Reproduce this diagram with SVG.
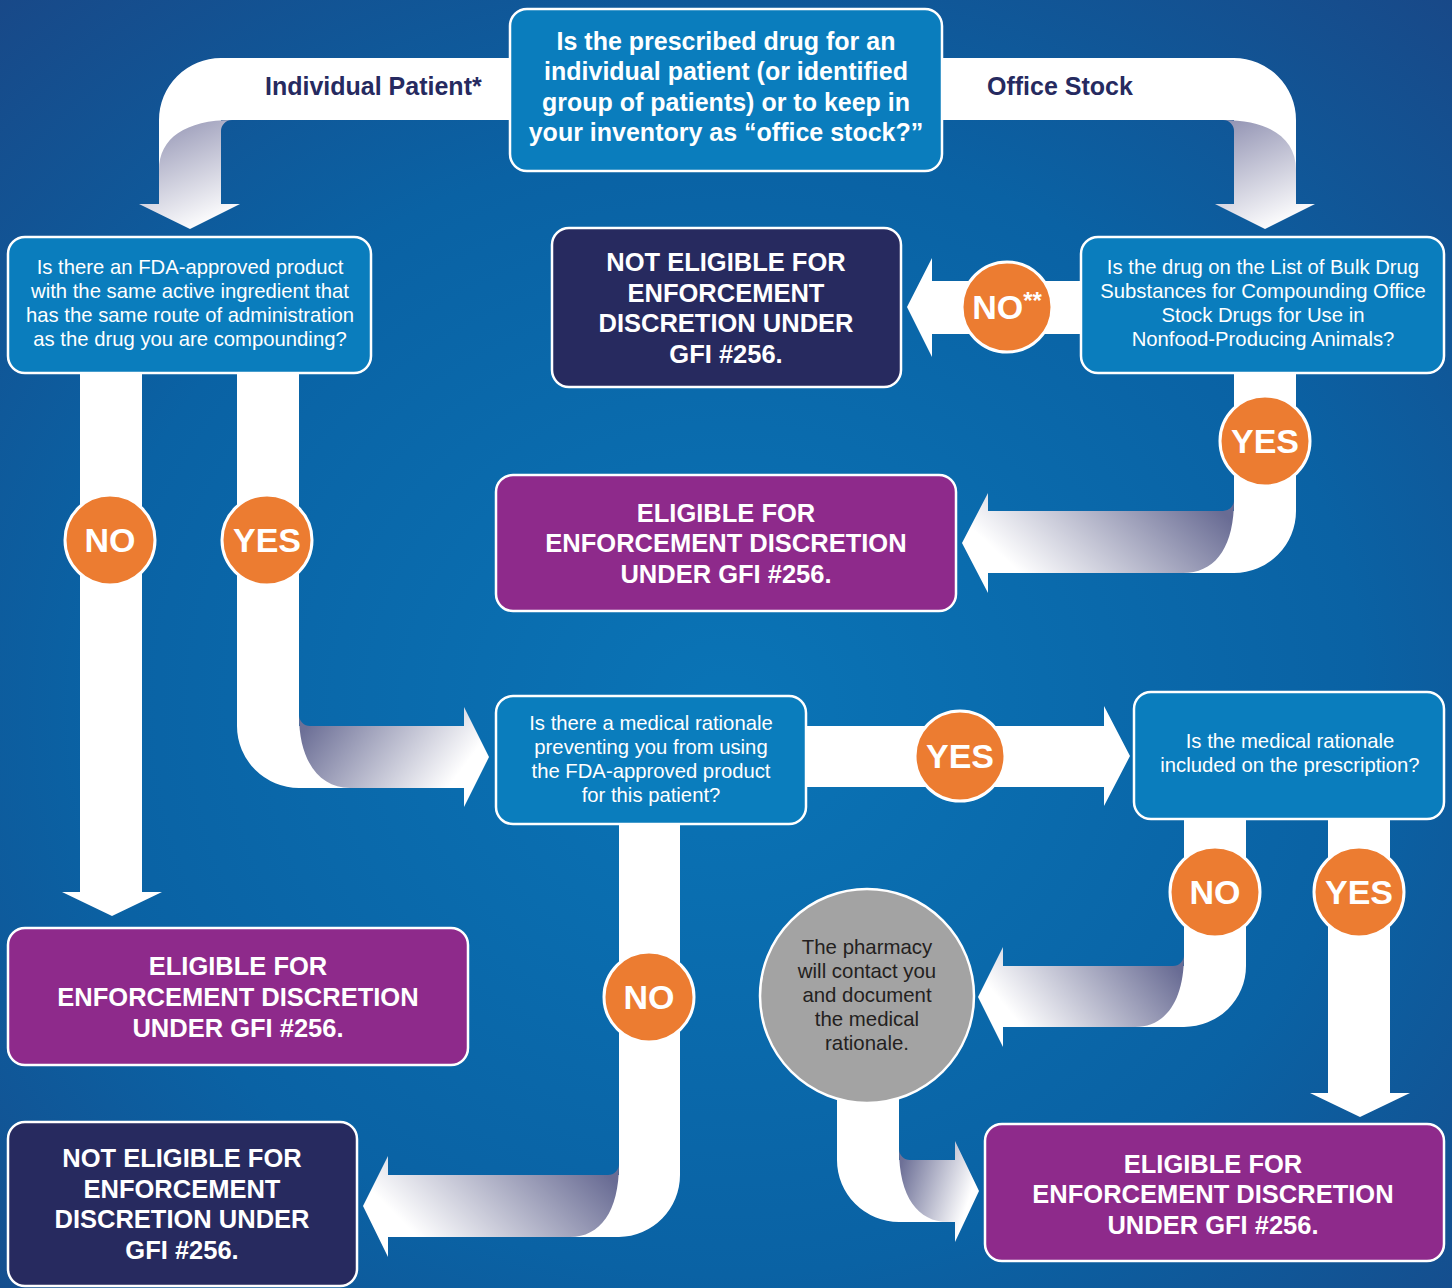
<svg xmlns="http://www.w3.org/2000/svg" width="1452" height="1288" viewBox="0 0 1452 1288">
<defs>
<radialGradient id="bg" cx="50%" cy="55%" r="80%">
<stop offset="0" stop-color="#0a74b6"/>
<stop offset="0.55" stop-color="#0a62a4"/>
<stop offset="1" stop-color="#1b4483"/>
</radialGradient>
<linearGradient id="gDown" x1="0.2" y1="0" x2="0.6" y2="1">
<stop offset="0" stop-color="#9596b5"/>
<stop offset="1" stop-color="#ffffff"/>
</linearGradient>
<linearGradient id="gLeft" x1="1" y1="0.3" x2="0" y2="0.7">
<stop offset="0" stop-color="#696c94"/>
<stop offset="0.85" stop-color="#ffffff"/>
</linearGradient>
<linearGradient id="gRight" x1="0" y1="0.3" x2="1" y2="0.7">
<stop offset="0" stop-color="#6d7097"/>
<stop offset="0.85" stop-color="#ffffff"/>
</linearGradient>
<style>
.q{fill:#0a7dbd;stroke:#fff;stroke-width:2.5}
.ne{fill:#272a5f;stroke:#fff;stroke-width:2.5}
.el{fill:#8e2a8b;stroke:#fff;stroke-width:2.5}
.oc{fill:#ec7c31;stroke:#fff;stroke-width:3}
.w{fill:#fff}
.tq{font-family:"Liberation Sans",Arial,sans-serif;font-size:20.3px;fill:#fff;text-anchor:middle}
.tb{font-family:"Liberation Sans",Arial,sans-serif;font-size:25.5px;font-weight:bold;fill:#fff;text-anchor:middle}
.tt{font-family:"Liberation Sans",Arial,sans-serif;font-size:25px;font-weight:bold;fill:#fff;text-anchor:middle}
.to{font-family:"Liberation Sans",Arial,sans-serif;font-size:34px;font-weight:bold;fill:#fff;text-anchor:middle}
.tl{font-family:"Liberation Sans",Arial,sans-serif;font-size:25px;font-weight:bold;fill:#262a60}
.tg{font-family:"Liberation Sans",Arial,sans-serif;font-size:20.4px;fill:#231f20;text-anchor:middle}
</style>
</defs>
<rect width="1452" height="1288" fill="url(#bg)"/>

<g id="connectors">
<!-- Individual Patient -->
<path class="w" d="M512,58 L221,58 A62,62 0 0 0 159,120 L159,180 L221,180 L221,120 L512,120 Z"/>
<path fill="url(#gDown)" d="M232,120 A11,11 0 0 0 221,131 L221,204 L240,204 L190,229 L139,204 L159,204 L159,170 C159,138 186,120 232,120 Z"/>
<text class="tl" x="265" y="95">Individual Patient*</text>
<!-- Office Stock -->
<path class="w" d="M940,58 L1234,58 A62,62 0 0 1 1296,120 L1296,180 L1234,180 L1234,120 L940,120 Z"/>
<path fill="url(#gDown)" d="M1223,120 A11,11 0 0 1 1234,131 L1234,204 L1215,204 L1265,229 L1315,204 L1296,204 L1296,170 C1296,138 1269,120 1223,120 Z"/>
<text class="tl" x="987" y="95">Office Stock</text>
<!-- NO** -->
<path class="w" d="M1085,281 L932,281 L932,258 L907,307 L932,357 L932,334 L1085,334 Z"/>
<!-- YES right, down then left -->
<path class="w" d="M1234,370 L1296,370 L1296,511 A62,62 0 0 1 1234,573 L1180,573 L1180,511 L1234,511 Z"/>
<path fill="url(#gLeft)" d="M1234,500 A11,11 0 0 1 1223,511 L988,511 L988,493 L962,543 L988,593 L988,573 L1183,573 C1215,573 1234,548 1234,500 Z"/>
<!-- Left NO -->
<path class="w" d="M80,370 L142,370 L142,892 L162,892 L112,916 L62,892 L80,892 Z"/>
<!-- Left YES, down then right -->
<path class="w" d="M237,370 L299,370 L299,726 L350,726 L350,788 L299,788 A62,62 0 0 1 237,726 Z"/>
<path fill="url(#gRight)" d="M299,715 A11,11 0 0 0 310,726 L464,726 L464,707 L489,757 L464,807 L464,788 L350,788 C320,788 299,762 299,715 Z"/>
<!-- YES middle -->
<path class="w" d="M802,726 L1104,726 L1104,706 L1130,756 L1104,806 L1104,787 L802,787 Z"/>
<!-- NO middle, down then left -->
<path class="w" d="M619,820 L680,820 L680,1175 A62,62 0 0 1 619,1237 L570,1237 L570,1175 L619,1175 Z"/>
<path fill="url(#gLeft)" d="M619,1164 A11,11 0 0 1 608,1175 L388,1175 L388,1156 L363,1206 L388,1257 L388,1237 L570,1237 C600,1237 619,1212 619,1164 Z"/>
<!-- NO right, down then left -->
<path class="w" d="M1184,815 L1246,815 L1246,966 A62,61 0 0 1 1184,1027 L1135,1027 L1135,966 L1184,966 Z"/>
<path fill="url(#gLeft)" d="M1184,955 A11,11 0 0 1 1173,966 L1003,966 L1003,947 L978,997 L1003,1047 L1003,1027 L1135,1027 C1165,1027 1184,1002 1184,955 Z"/>
<!-- YES right straight -->
<path class="w" d="M1328,815 L1390,815 L1390,1093 L1410,1093 L1360,1117 L1310,1093 L1328,1093 Z"/>
<!-- Circle down then right -->
<path class="w" d="M837,1050 L899,1050 L899,1160 L950,1160 L950,1222 L899,1222 A62,62 0 0 1 837,1160 Z"/>
<path fill="url(#gRight)" d="M899,1149 A11,11 0 0 0 910,1160 L955,1160 L955,1141 L979,1191 L955,1242 L955,1222 L948,1222 C918,1222 899,1197 899,1149 Z"/>
</g>

<g id="q-top">
<rect class="q" x="510" y="9" width="432" height="162" rx="17"/>
<text class="tt" x="726" y="50">Is the prescribed drug for an</text>
<text class="tt" x="726" y="80">individual patient (or identified</text>
<text class="tt" x="726" y="111">group of patients) or to keep in</text>
<text class="tt" x="726" y="141">your inventory as “office stock?”</text>
</g>

<g id="q-fda">
<rect class="q" x="8" y="237" width="363" height="136" rx="17"/>
<text class="tq" x="190" y="274">Is there an FDA-approved product</text>
<text class="tq" x="190" y="298">with the same active ingredient that</text>
<text class="tq" x="190" y="322">has the same route of administration</text>
<text class="tq" x="190" y="346">as the drug you are compounding?</text>
</g>

<g id="ne-top">
<rect class="ne" x="552" y="228" width="349" height="159" rx="17"/>
<text class="tb" x="726" y="271">NOT ELIGIBLE FOR</text>
<text class="tb" x="726" y="302">ENFORCEMENT</text>
<text class="tb" x="726" y="332">DISCRETION UNDER</text>
<text class="tb" x="726" y="363">GFI #256.</text>
</g>

<g id="q-bulk">
<rect class="q" x="1081" y="237" width="363" height="136" rx="17"/>
<text class="tq" x="1263" y="274">Is the drug on the List of Bulk Drug</text>
<text class="tq" x="1263" y="298">Substances for Compounding Office</text>
<text class="tq" x="1263" y="322">Stock Drugs for Use in</text>
<text class="tq" x="1263" y="346">Nonfood-Producing Animals?</text>
</g>

<g id="el-mid">
<rect class="el" x="496" y="475" width="460" height="136" rx="17"/>
<text class="tb" x="726" y="522">ELIGIBLE FOR</text>
<text class="tb" x="726" y="552">ENFORCEMENT DISCRETION</text>
<text class="tb" x="726" y="583">UNDER GFI #256.</text>
</g>

<g id="q-rationale">
<rect class="q" x="496" y="696" width="310" height="128" rx="17"/>
<text class="tq" x="651" y="730">Is there a medical rationale</text>
<text class="tq" x="651" y="754">preventing you from using</text>
<text class="tq" x="651" y="778">the FDA-approved product</text>
<text class="tq" x="651" y="802">for this patient?</text>
</g>

<g id="q-prescription">
<rect class="q" x="1134" y="692" width="310" height="127" rx="17"/>
<text class="tq" x="1290" y="748">Is the medical rationale</text>
<text class="tq" x="1290" y="772">included on the prescription?</text>
</g>

<g id="el-left">
<rect class="el" x="8" y="928" width="460" height="137" rx="17"/>
<text class="tb" x="238" y="975">ELIGIBLE FOR</text>
<text class="tb" x="238" y="1006">ENFORCEMENT DISCRETION</text>
<text class="tb" x="238" y="1037">UNDER GFI #256.</text>
</g>

<g id="ne-bottom">
<rect class="ne" x="8" y="1122" width="349" height="164" rx="17"/>
<text class="tb" x="182" y="1167">NOT ELIGIBLE FOR</text>
<text class="tb" x="182" y="1198">ENFORCEMENT</text>
<text class="tb" x="182" y="1228">DISCRETION UNDER</text>
<text class="tb" x="182" y="1259">GFI #256.</text>
</g>

<g id="pharmacy">
<circle cx="867" cy="996" r="107" fill="#a3a3a3" stroke="#fff" stroke-width="2.5"/>
<text class="tg" x="867" y="954">The pharmacy</text>
<text class="tg" x="867" y="978">will contact you</text>
<text class="tg" x="867" y="1002">and document</text>
<text class="tg" x="867" y="1026">the medical</text>
<text class="tg" x="867" y="1050">rationale.</text>
</g>

<g id="el-right">
<rect class="el" x="985" y="1124" width="459" height="137" rx="17"/>
<text class="tb" x="1213" y="1173">ELIGIBLE FOR</text>
<text class="tb" x="1213" y="1203">ENFORCEMENT DISCRETION</text>
<text class="tb" x="1213" y="1234">UNDER GFI #256.</text>
</g>

<g id="badges">
<g id="b-no-left"><circle class="oc" cx="110" cy="540" r="45"/><text class="to" x="110" y="552">NO</text></g>
<g id="b-yes-left"><circle class="oc" cx="267" cy="540" r="45"/><text class="to" x="267" y="552">YES</text></g>
<g id="b-no-top"><circle class="oc" cx="1007" cy="307" r="45"/><text class="to" x="1007" y="319">NO<tspan font-size="24px" dy="-10">**</tspan></text></g>
<g id="b-yes-top"><circle class="oc" cx="1265" cy="441" r="45"/><text class="to" x="1265" y="453">YES</text></g>
<g id="b-yes-mid"><circle class="oc" cx="960" cy="756" r="45"/><text class="to" x="960" y="768">YES</text></g>
<g id="b-no-right"><circle class="oc" cx="1215" cy="892" r="45"/><text class="to" x="1215" y="904">NO</text></g>
<g id="b-yes-right"><circle class="oc" cx="1359" cy="892" r="45"/><text class="to" x="1359" y="904">YES</text></g>
<g id="b-no-mid"><circle class="oc" cx="649" cy="997" r="45"/><text class="to" x="649" y="1009">NO</text></g>
</g>
</svg>
